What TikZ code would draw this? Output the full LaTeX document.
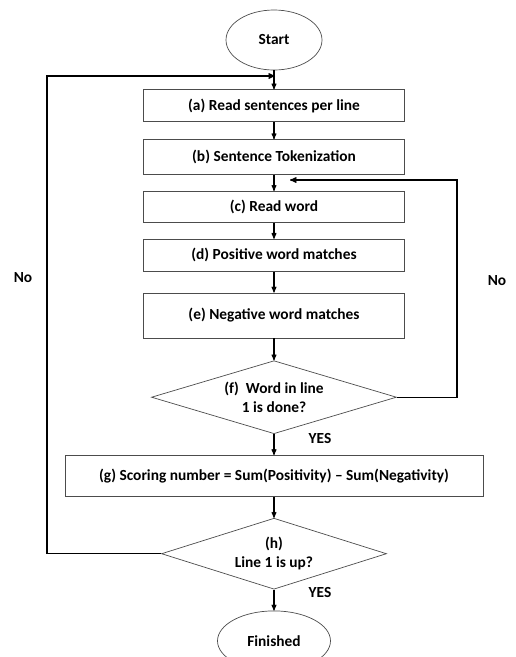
\documentclass[tikz,border=0pt]{standalone}
\usepackage{fontspec}
\setmainfont{Carlito}
\usetikzlibrary{shapes,arrows,positioning}

\begin{document}
\begin{tikzpicture}[->, >=stealth', line width=1.1pt, x=1pt, y=1pt,
        font=\bfseries\fontsize{15.4}{18}\selectfont]
        \tikzstyle{stepbox}=[draw=black!70, line width=0.8pt, rectangle, minimum width=261pt, minimum height=32pt, inner sep=2pt]
        \tikzstyle{terminal}=[draw=black!70, line width=0.7pt, ellipse, minimum width=96pt, minimum height=60pt, inner sep=0pt]
        \tikzstyle{decision}=[draw=black!70, line width=0.7pt, diamond, aspect=3.3, inner sep=0pt, align=center,
                font=\bfseries\fontsize{15.4}{19}\selectfont]
        \tikzstyle{loopline}=[black, line width=1.3pt]
        \useasboundingbox (0,0) rectangle (516,-657);
        \node[terminal] (start) at (274,-40) {Start};
        \node[stepbox]  (a)[below=19pt of start]   {(a) Read sentences per line};
        \node[stepbox, minimum height=35pt] (b)[below=17pt of a] {(b) Sentence Tokenization};
        \node[stepbox, minimum height=31pt] (c)[below=16pt of b] {(c) Read word};
        \node[stepbox]  (d)[below=16pt of c]   {(d) Positive word matches};
        \node[stepbox, minimum height=45pt] (e)[below=21pt of d] {(e) Negative word matches};
        \node[decision, minimum width=245pt, minimum height=73pt] (f)[below=22pt of e]
                {(f)\ \ Word in line\\1 is done?};
        \node[stepbox, minimum width=418pt, minimum height=41pt] (g)[below=21pt of f]
                {(g) Scoring number = Sum(Positivity) -- Sum(Negativity)};
        \node[decision, minimum width=225pt, minimum height=71pt] (h)[below=21pt of g]
                {(h)\\Line 1 is up?};
        \node[terminal, minimum width=113pt] (fin)[below=21pt of h] {Finished};
        % loop ends
        \coordinate (topin) at (275,-76);
        \coordinate (wordin) at (290,-180);
        \coordinate (leftx) at (47,0);
        \coordinate (rightx) at (457,0);
        \path
        (start) edge (a)
        (a) edge (b)
        (b) edge (c)
        (c) edge (d)
        (d) edge (e)
        (e) edge (f)
        (f) edge (g)
        (g) edge (h)
        (h) edge (fin);
        \draw[loopline] (h.west) -- (h.west -| leftx) |- (topin);
        \draw[loopline] (f.east) -- (f.east -| rightx) |- (wordin);
        \node[-] (no1)  at (23,-278)  {No};
        \node[-] (no2)  at (497,-281) {No};
        \node[-] (yes1) at (320,-438) {YES};
        \node[-] (yes2) at (320,-592) {YES};
\end{tikzpicture}
\end{document}
